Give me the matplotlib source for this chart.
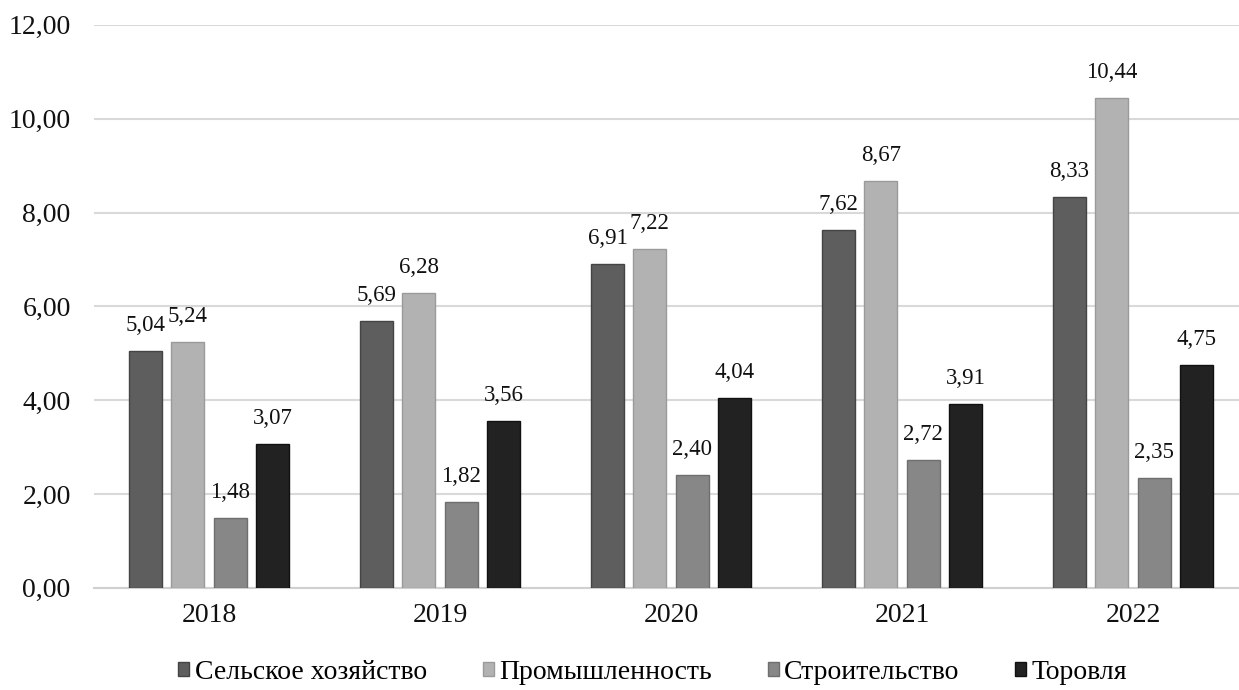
import numpy as np
import matplotlib.pyplot as plt

years = ['2018', '2019', '2020', '2021', '2022']
agri = [5.04, 5.69, 6.91, 7.62, 8.33]
industry = [5.24, 6.28, 7.22, 8.67, 10.44]
construction = [1.48, 1.82, 2.40, 2.72, 2.35]
trade = [3.07, 3.56, 4.04, 3.91, 4.75]

series = [agri, industry, construction, trade]
names = ['Сельское хозяйство', 'Промышленность', 'Строительство', 'Торовля']
colors = ['#5e5e5e', '#b2b2b2', '#878787', '#222222']
edges = ['#444444', '#9a9a9a', '#6e6e6e', '#111111']

plt.rcParams['font.family'] = ['Liberation Serif', 'DejaVu Serif']

fig = plt.figure(figsize=(12.39, 6.9), dpi=100)
ax = fig.add_axes([0.0755, 0.148, 0.9245, 0.816])

x = np.arange(len(years))
pitch = 0.183
width = 0.143
for i, (vals, name) in enumerate(zip(series, names)):
    pos = x + (i - 1.5) * pitch
    bars = ax.bar(pos, vals, width, color=colors[i], edgecolor=edges[i],
                  linewidth=1, label=name, zorder=3)
    for b, v in zip(bars, vals):
        ax.text(b.get_x() + b.get_width() / 2, v + 0.32,
                f'{v:.2f}'.replace('.', ','), ha='center', va='bottom',
                fontsize=16.5, color='#111111')

ax.set_ylim(0, 12)
ax.set_xlim(-0.5, 4.459)
ax.set_yticks(np.arange(0, 13, 2))
ax.set_yticklabels([f'{t:.2f}'.replace('.', ',') for t in np.arange(0, 13, 2)])
ax.set_xticks(x)
ax.set_xticklabels(years)
ax.tick_params(axis='both', length=0, labelsize=20, colors='#111111')
ax.tick_params(axis='y', pad=16.5)
ax.tick_params(axis='x', pad=11)
ax.grid(axis='y', color='#d9d9d9', linewidth=1.5, zorder=0)
for s in ['top', 'right', 'left']:
    ax.spines[s].set_visible(False)
ax.spines['bottom'].set_color('#d0d0d0')
ax.spines['bottom'].set_linewidth(1.5)

fig.legend(loc='center', bbox_to_anchor=(0.527, 0.026), ncol=4,
           frameon=False, fontsize=20, handlelength=0.4, handleheight=0.4,
           handletextpad=0.2, columnspacing=2.0, borderpad=0)

fig.savefig('out.png', dpi=100)
